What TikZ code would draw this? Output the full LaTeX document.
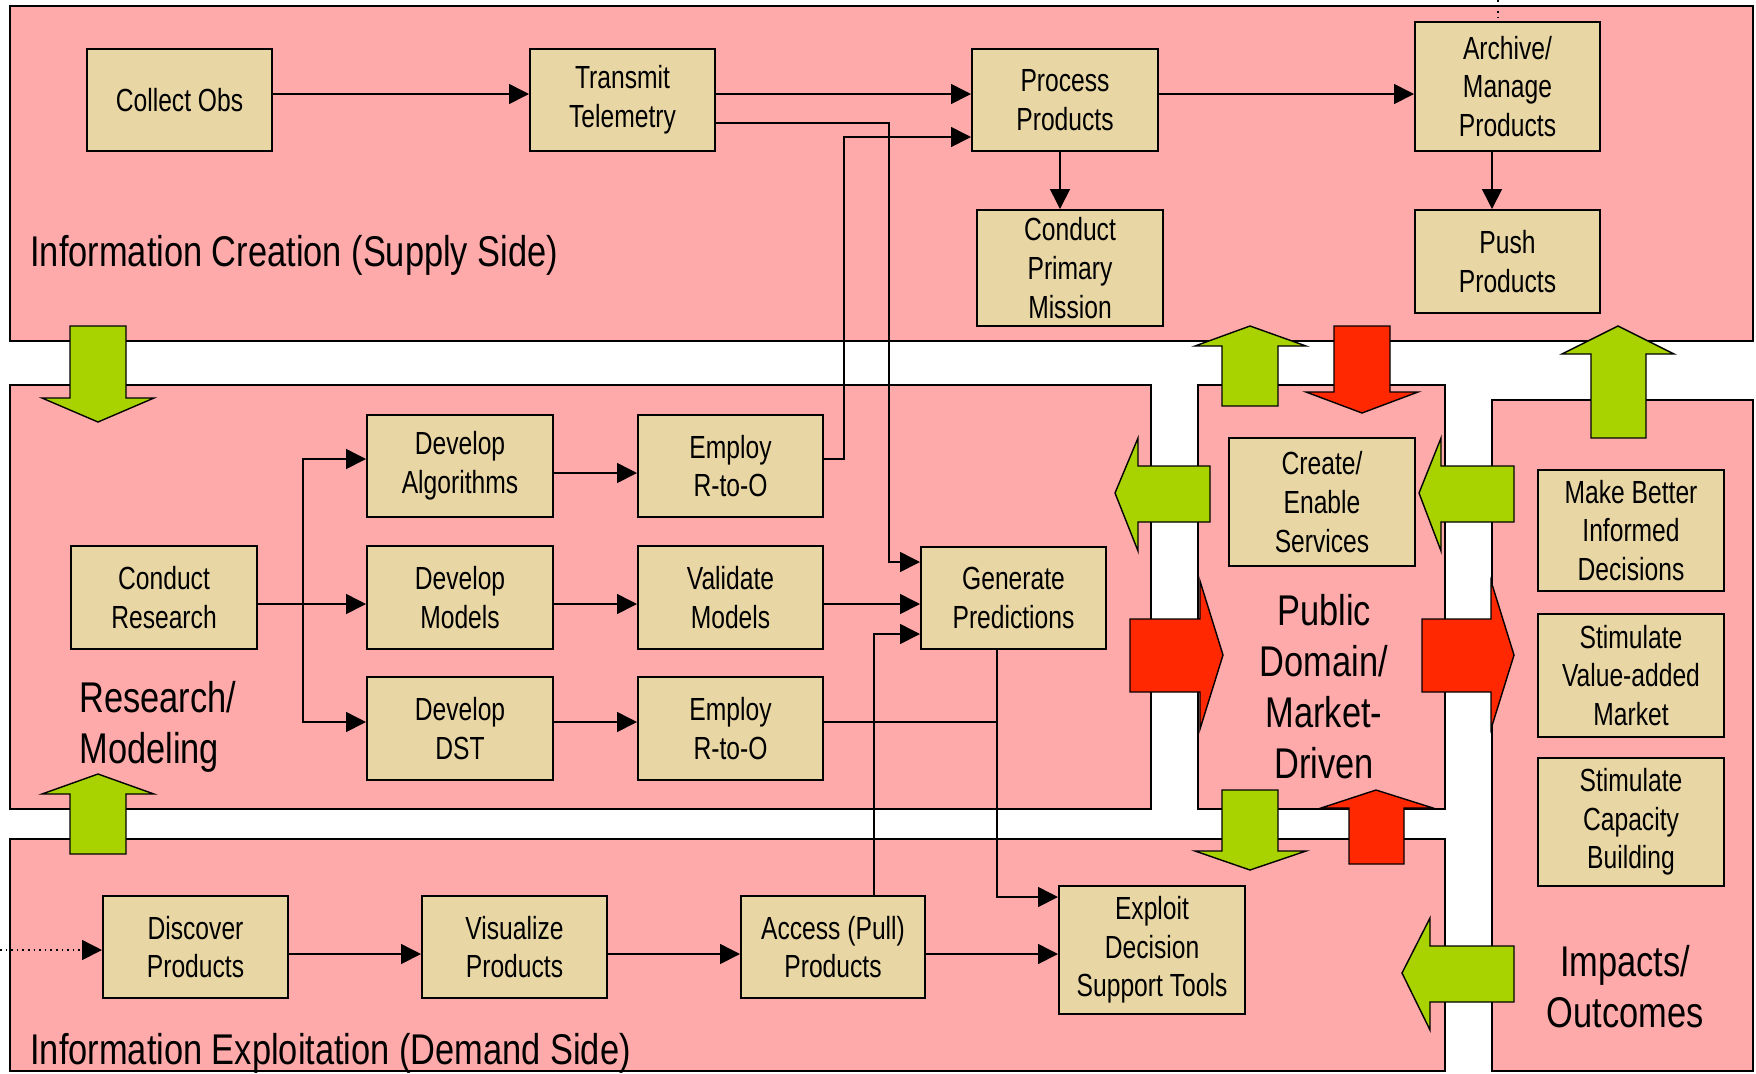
\documentclass[tikz,border=0pt]{standalone}
\usepackage{fontspec}
\setmainfont{Liberation Sans}[FakeStretch=0.77]
\newfontfamily\labelfont{Liberation Sans}[FakeStretch=0.8]
\usetikzlibrary{arrows.meta}
\definecolor{panelpink}{RGB}{255,170,170}
\definecolor{boxtan}{RGB}{232,214,164}
\definecolor{flowgreen}{RGB}{168,210,0}
\definecolor{flowred}{RGB}{255,40,0}

\begin{document}
\begin{tikzpicture}[x=0.5pt,y=-0.5pt,
  panel/.style={draw=black, line width=1pt, fill=panelpink},
  boxsize/.style 2 args={minimum width={#1*0.5pt}, minimum height={#2*0.5pt}},
  stage/.style={draw=black, line width=1pt, fill=boxtan, inner sep=0pt,
    align=center, font=\fontsize{16}{19.3}\selectfont, boxsize={185}{102}},
  link/.style={draw=black, line width=0.8pt},
  arr/.style={link, -{Triangle[length=10pt,width=10pt]}},
  bigtext/.style={font=\labelfont\fontsize{21.5}{25.5}\selectfont, inner sep=0pt},
  greenblock/.style={draw=black, line width=0.7pt, fill=flowgreen, line join=miter},
  redblock/.style={draw=black, line width=0.7pt, fill=flowred, line join=miter}]

\fill[white] (0,0) rectangle (1756,1073);
\useasboundingbox (0,0) rectangle (1756,1073);

% ---- panels
\draw[panel] (10,6) rectangle (1753,341);
\draw[panel] (10,385) rectangle (1151,809);
\draw[panel] (1198,385) rectangle (1445,809);
\draw[panel] (10,839) rectangle (1445,1071);
\draw[panel] (1492,400) rectangle (1753,1071);

% ---- panel titles
\node[bigtext, anchor=base west] (tsupply) at (30,266) {Information Creation (Supply Side)};
\node[bigtext, anchor=base west] (tdemand) at (30,1064) {Information Exploitation (Demand Side)};
\node[bigtext, anchor=west, align=left] (tresearch) at (79,727) {Research/\\Modeling};
\node[bigtext, align=center] (tpublic) at (1324,687) {Public\\Domain/\\Market-\\Driven};
\node[bigtext, align=center] (timpacts) at (1625,987) {Impacts/\\Outcomes};

% ---- process boxes: supply side
\node[stage] (co) at (179.5,100) {Collect Obs};
\node[stage] (tt) at (622.5,100) {Transmit\\Telemetry};
\node[stage, boxsize={186}{102}] (pp) at (1065,100) {Process\\Products};
\node[stage, boxsize={185}{129}] (am) at (1507.5,86.5) {Archive/\\Manage\\Products};
\node[stage, boxsize={186}{116}] (cpm) at (1070,268) {Conduct\\Primary\\Mission};
\node[stage, boxsize={185}{103}] (push) at (1507.5,261.5) {Push\\Products};

% ---- research / modeling
\node[stage, boxsize={186}{102}] (da) at (460,466) {Develop\\Algorithms};
\node[stage] (e1) at (730.5,466) {Employ\\R-to-O};
\node[stage, boxsize={186}{103}] (cr) at (164,597.5) {Conduct\\Research};
\node[stage, boxsize={186}{103}] (dm) at (460,597.5) {Develop\\Models};
\node[stage, boxsize={185}{103}] (vm) at (730.5,597.5) {Validate\\Models};
\node[stage, boxsize={186}{103}] (dd) at (460,728.5) {Develop\\DST};
\node[stage, boxsize={185}{103}] (e2) at (730.5,728.5) {Employ\\R-to-O};
\node[stage] (gp) at (1013.5,598) {Generate\\Predictions};

% ---- public domain and impacts
\node[stage, boxsize={186}{128}] (ces) at (1322,502) {Create/\\Enable\\Services};
\node[stage, boxsize={186}{121}] (mbd) at (1631,530.5) {Make Better\\Informed\\Decisions};
\node[stage, boxsize={186}{123}] (svm) at (1631,675.5) {Stimulate\\Value-added\\Market};
\node[stage, boxsize={186}{128}] (scb) at (1631,822) {Stimulate\\Capacity\\Building};

% ---- demand side
\node[stage] (disc) at (195.5,947) {Discover\\Products};
\node[stage] (vis) at (514.5,947) {Visualize\\Products};
\node[stage, boxsize={184}{102}] (ap) at (833,947) {Access (Pull)\\Products};
\node[stage, boxsize={186}{128}] (ex) at (1152,950) {Exploit\\Decision\\Support Tools};

% ---- free ends and junctions
\coordinate (offtop) at (1498,0);
\coordinate (offleft) at (0,950);
\coordinate (split) at (303,604);
\coordinate (join) at (997,722);

% ---- connectors
\draw[arr] (co.east |- 0,94) -- (tt.west |- 0,94);
\draw[arr] (tt.east |- 0,94) -- (pp.west |- 0,94);
\draw[arr] (tt.east |- 0,123) -| (889,562) -- (gp.west |- 0,562);
\draw[arr] (e1.east |- 0,459) -| (844,137) -- (pp.west |- 0,137);
\draw[arr] (pp.east |- 0,94) -- (am.west |- 0,94);
\draw[arr] (pp.south -| 1060,0) -- (cpm.north -| 1060,0);
\draw[arr] (am.south -| 1492,0) -- (push.north -| 1492,0);
\draw[link, dotted] (offtop) -- (am.north -| offtop);

\draw[arr] (cr.east |- 0,604) -- (dm.west |- 0,604);
\draw[arr] (split) |- (da.west |- 0,459);
\draw[arr] (split) |- (dd.west |- 0,722);
\draw[arr] (da.east |- 0,473) -- (e1.west |- 0,473);
\draw[arr] (dm.east |- 0,604) -- (vm.west |- 0,604);
\draw[arr] (dd.east |- 0,722) -- (e2.west |- 0,722);
\draw[arr] (vm.east |- 0,604) -- (gp.west |- 0,604);
\draw[arr] (ap.north -| 874,0) |- (gp.west |- 0,634);
\draw[arr] (gp.south -| join) |- (ex.west |- 0,897);
\draw[link] (e2.east |- join) -- (join);

\draw[arr, dotted] (offleft) -- (disc.west |- offleft);
\draw[arr] (disc.east |- 0,954) -- (vis.west |- 0,954);
\draw[arr] (vis.east |- 0,954) -- (ap.west |- 0,954);
\draw[arr] (ap.east |- 0,954) -- (ex.west |- 0,954);

% ---- block flow arrows between areas
\draw[greenblock] (70,326) -- (126,326) -- (126,398) -- (154,398) -- (98,422) -- (42,398) -- (70,398) -- cycle;
\draw[greenblock] (70,854) -- (126,854) -- (126,794) -- (154,794) -- (98,774) -- (42,794) -- (70,794) -- cycle;
\draw[greenblock] (1222,406) -- (1278,406) -- (1278,346) -- (1306,346) -- (1250,326) -- (1195,346) -- (1222,346) -- cycle;
\draw[redblock] (1334,326) -- (1390,326) -- (1390,392) -- (1418,392) -- (1362,413) -- (1306,392) -- (1334,392) -- cycle;
\draw[greenblock] (1591,438) -- (1646,438) -- (1646,354) -- (1674,354) -- (1618,326) -- (1562,354) -- (1591,354) -- cycle;
\draw[greenblock] (1210,466) -- (1210,522) -- (1138,522) -- (1138,551) -- (1115,493) -- (1138,438) -- (1138,466) -- cycle;
\draw[greenblock] (1514,466) -- (1514,522) -- (1441,522) -- (1441,551) -- (1419,493) -- (1441,438) -- (1441,466) -- cycle;
\draw[redblock] (1130,619) -- (1200,619) -- (1200,581) -- (1223,655) -- (1200,729) -- (1200,692) -- (1130,692) -- cycle;
\draw[redblock] (1422,619) -- (1491,619) -- (1491,581) -- (1514,655) -- (1491,729) -- (1491,692) -- (1422,692) -- cycle;
\draw[greenblock] (1222,790) -- (1278,790) -- (1278,851) -- (1306,851) -- (1250,870) -- (1195,851) -- (1222,851) -- cycle;
\draw[redblock] (1349,864) -- (1404,864) -- (1404,808) -- (1433,808) -- (1376,790) -- (1321,808) -- (1349,808) -- cycle;
\draw[greenblock] (1514,946) -- (1514,1002) -- (1430,1002) -- (1430,1030) -- (1402,973) -- (1430,918) -- (1430,946) -- cycle;
\end{tikzpicture}
\end{document}
